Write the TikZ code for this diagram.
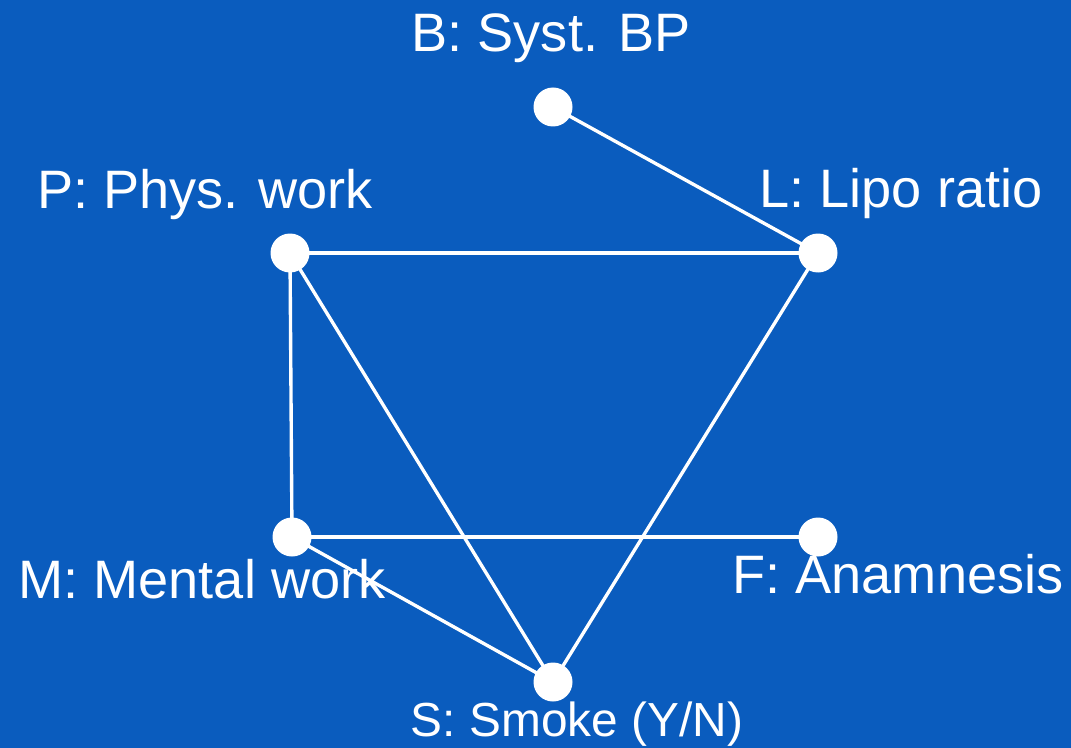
\documentclass[tikz,border=0pt]{standalone}
\usepackage{fontspec}
\setmainfont{Liberation Sans}
\definecolor{bgblue}{RGB}{10,92,190}
\begin{document}
\begin{tikzpicture}[x=0.025cm,y=-0.025cm,
  dot/.style={circle,fill=white,inner sep=0pt,minimum size=39*0.025cm},
  edge/.style={draw=white,line width=2.4pt},
  lbl/.style={text=white,anchor=base,inner sep=0pt,font=\fontsize{38.5}{40}\selectfont}]
\fill[bgblue] (0,0) rectangle (1071,748);
\useasboundingbox (0,0) rectangle (1071,748);
\coordinate (cB) at (553,107);
\coordinate (cL) at (818,253);
\coordinate (cP) at (290,253);
\coordinate (cM) at (292,537);
\coordinate (cF) at (818,537);
\coordinate (cS) at (553,682);
\draw[edge] (cB) -- (cL);
\draw[edge] (cP) -- (cL);
\draw[edge] (cP) -- (cM);
\draw[edge] (cP) -- (cS);
\draw[edge] (cL) -- (cS);
\draw[edge] (cM) -- (cF);
\draw[edge] (cM) -- (cS);
\node[dot] (B) at (cB) {};
\node[dot] (L) at (cL) {};
\node[dot] (P) at (cP) {};
\node[dot] (M) at (cM) {};
\node[dot] (F) at (cF) {};
\node[dot] (S) at (cS) {};
\node[lbl] (tB) at (551,52) {B: Syst. BP};
\node[lbl] (tL) at (901,207) {L: Lipo ratio};
\node[lbl] (tP) at (205,208) {P: Phys. work};
\node[lbl] (tM) at (202,598) {M: Mental work};
\node[lbl] (tF) at (898,593) {F: Anamnesis};
\node[lbl,font=\fontsize{34}{36}\selectfont] (tS) at (577,736) {S: Smoke (Y/N)};
\end{tikzpicture}
\end{document}
